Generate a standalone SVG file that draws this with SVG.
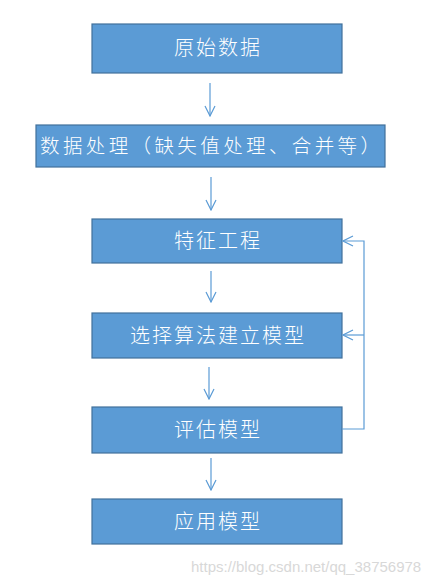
<svg xmlns="http://www.w3.org/2000/svg" width="444" height="585" viewBox="0 0 444 585">
<defs>
<style>
.box{fill:#5b9bd5;stroke:#41719c;stroke-width:1.2}
.t{fill:#ffffff;font-family:"Noto Sans CJK SC","Microsoft YaHei",sans-serif;font-weight:300;font-size:20px;letter-spacing:2px;text-anchor:middle}
.c{fill:none;stroke:#5b9bd5;stroke-width:1.2}
.wm{fill:#d8d8d8;font-family:"Liberation Sans",Arial,sans-serif;font-size:15px}
</style>
<marker id="ah" viewBox="0 0 12 12" refX="11" refY="6" markerWidth="12" markerHeight="12" markerUnits="userSpaceOnUse" orient="auto">
<polyline points="1,1 11,6 1,11" fill="none" stroke="#5b9bd5" stroke-width="1.2"/>
</marker>
</defs>
<rect width="444" height="585" fill="#ffffff"/>
<g id="n1"><rect class="box" x="92" y="24" width="250" height="49"/><text class="t" x="218" y="55">原始数据</text></g>
<g id="n2"><rect class="box" x="36" y="125" width="349" height="42"/><text class="t" x="210" y="153" textLength="340" lengthAdjust="spacing" style="font-size:19.5px;letter-spacing:0">数据处理（缺失值处理、合并等）</text></g>
<g id="n3"><rect class="box" x="92" y="219" width="250" height="44"/><text class="t" x="218" y="248">特征工程</text></g>
<g id="n4"><rect class="box" x="92" y="313" width="250" height="45"/><text class="t" x="218" y="343">选择算法建立模型</text></g>
<g id="n5"><rect class="box" x="92" y="407" width="250" height="46"/><text class="t" x="218" y="437">评估模型</text></g>
<g id="n6"><rect class="box" x="92" y="499" width="250" height="45"/><text class="t" x="218" y="529">应用模型</text></g>
<g id="connectors">
<line class="c" x1="210" y1="83" x2="210" y2="116" marker-end="url(#ah)"/>
<line class="c" x1="211" y1="177" x2="211" y2="210" marker-end="url(#ah)"/>
<line class="c" x1="211" y1="271" x2="211" y2="302" marker-end="url(#ah)"/>
<line class="c" x1="209" y1="367" x2="209" y2="399" marker-end="url(#ah)"/>
<line class="c" x1="211" y1="458" x2="211" y2="490" marker-end="url(#ah)"/>
<polyline class="c" points="342,429 364,429 364,241 343,241" marker-end="url(#ah)"/>
<line class="c" x1="364" y1="335" x2="343" y2="335" marker-end="url(#ah)"/>
</g>
<text class="wm" x="191" y="572">https://blog.csdn.net/qq_38756978</text>
</svg>
